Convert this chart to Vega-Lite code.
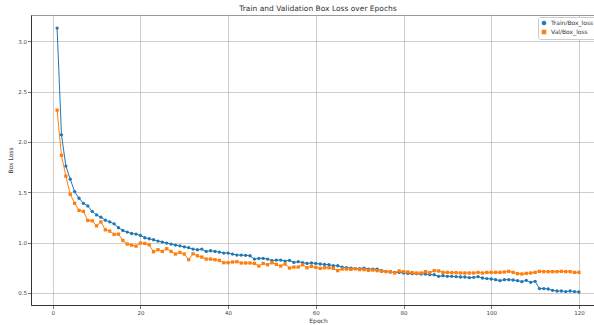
{
  "$schema": "https://vega.github.io/schema/vega-lite/v6.json",
  "autosize": {"type": "none"},
  "padding": {"left": 31, "top": 15, "right": 0, "bottom": 20},
  "width": 574,
  "height": 290,
  "background": "white",
  "title": {"text": "Train and Validation Box Loss over Epochs", "fontSize": 7.5, "font": "DejaVu Sans", "fontWeight": "normal", "color": "#333", "offset": 3, "anchor": "middle"},
  "data": {"values": [
    {"epoch":1,"Train/Box_loss":3.13,"Val/Box_loss":2.315},
    {"epoch":2,"Train/Box_loss":2.07,"Val/Box_loss":1.866},
    {"epoch":3,"Train/Box_loss":1.76,"Val/Box_loss":1.66},
    {"epoch":4,"Train/Box_loss":1.63,"Val/Box_loss":1.48},
    {"epoch":5,"Train/Box_loss":1.506,"Val/Box_loss":1.39},
    {"epoch":6,"Train/Box_loss":1.44,"Val/Box_loss":1.32},
    {"epoch":7,"Train/Box_loss":1.39,"Val/Box_loss":1.31},
    {"epoch":8,"Train/Box_loss":1.364,"Val/Box_loss":1.22},
    {"epoch":9,"Train/Box_loss":1.31,"Val/Box_loss":1.216},
    {"epoch":10,"Train/Box_loss":1.275,"Val/Box_loss":1.166},
    {"epoch":11,"Train/Box_loss":1.252,"Val/Box_loss":1.205},
    {"epoch":12,"Train/Box_loss":1.222,"Val/Box_loss":1.127},
    {"epoch":13,"Train/Box_loss":1.206,"Val/Box_loss":1.114},
    {"epoch":14,"Train/Box_loss":1.186,"Val/Box_loss":1.081},
    {"epoch":15,"Train/Box_loss":1.147,"Val/Box_loss":1.084},
    {"epoch":16,"Train/Box_loss":1.12,"Val/Box_loss":1.021},
    {"epoch":17,"Train/Box_loss":1.104,"Val/Box_loss":0.985},
    {"epoch":18,"Train/Box_loss":1.09,"Val/Box_loss":0.975},
    {"epoch":19,"Train/Box_loss":1.084,"Val/Box_loss":0.965},
    {"epoch":20,"Train/Box_loss":1.071,"Val/Box_loss":0.995},
    {"epoch":21,"Train/Box_loss":1.048,"Val/Box_loss":0.991},
    {"epoch":22,"Train/Box_loss":1.038,"Val/Box_loss":0.978},
    {"epoch":23,"Train/Box_loss":1.028,"Val/Box_loss":0.909},
    {"epoch":24,"Train/Box_loss":1.015,"Val/Box_loss":0.929},
    {"epoch":25,"Train/Box_loss":1.005,"Val/Box_loss":0.912},
    {"epoch":26,"Train/Box_loss":0.995,"Val/Box_loss":0.939},
    {"epoch":27,"Train/Box_loss":0.985,"Val/Box_loss":0.912},
    {"epoch":28,"Train/Box_loss":0.975,"Val/Box_loss":0.886},
    {"epoch":29,"Train/Box_loss":0.968,"Val/Box_loss":0.902},
    {"epoch":30,"Train/Box_loss":0.958,"Val/Box_loss":0.886},
    {"epoch":31,"Train/Box_loss":0.949,"Val/Box_loss":0.83},
    {"epoch":32,"Train/Box_loss":0.935,"Val/Box_loss":0.889},
    {"epoch":33,"Train/Box_loss":0.929,"Val/Box_loss":0.869},
    {"epoch":34,"Train/Box_loss":0.935,"Val/Box_loss":0.856},
    {"epoch":35,"Train/Box_loss":0.912,"Val/Box_loss":0.836},
    {"epoch":36,"Train/Box_loss":0.919,"Val/Box_loss":0.836},
    {"epoch":37,"Train/Box_loss":0.912,"Val/Box_loss":0.83},
    {"epoch":38,"Train/Box_loss":0.906,"Val/Box_loss":0.823},
    {"epoch":39,"Train/Box_loss":0.896,"Val/Box_loss":0.8},
    {"epoch":40,"Train/Box_loss":0.896,"Val/Box_loss":0.8},
    {"epoch":41,"Train/Box_loss":0.886,"Val/Box_loss":0.807},
    {"epoch":42,"Train/Box_loss":0.876,"Val/Box_loss":0.81},
    {"epoch":43,"Train/Box_loss":0.876,"Val/Box_loss":0.797},
    {"epoch":44,"Train/Box_loss":0.873,"Val/Box_loss":0.797},
    {"epoch":45,"Train/Box_loss":0.869,"Val/Box_loss":0.797},
    {"epoch":46,"Train/Box_loss":0.836,"Val/Box_loss":0.793},
    {"epoch":47,"Train/Box_loss":0.843,"Val/Box_loss":0.767},
    {"epoch":48,"Train/Box_loss":0.843,"Val/Box_loss":0.793},
    {"epoch":49,"Train/Box_loss":0.836,"Val/Box_loss":0.78},
    {"epoch":50,"Train/Box_loss":0.82,"Val/Box_loss":0.8},
    {"epoch":51,"Train/Box_loss":0.826,"Val/Box_loss":0.783},
    {"epoch":52,"Train/Box_loss":0.826,"Val/Box_loss":0.767},
    {"epoch":53,"Train/Box_loss":0.816,"Val/Box_loss":0.787},
    {"epoch":54,"Train/Box_loss":0.823,"Val/Box_loss":0.747},
    {"epoch":55,"Train/Box_loss":0.803,"Val/Box_loss":0.757},
    {"epoch":56,"Train/Box_loss":0.81,"Val/Box_loss":0.757},
    {"epoch":57,"Train/Box_loss":0.8,"Val/Box_loss":0.78},
    {"epoch":58,"Train/Box_loss":0.793,"Val/Box_loss":0.75},
    {"epoch":59,"Train/Box_loss":0.797,"Val/Box_loss":0.764},
    {"epoch":60,"Train/Box_loss":0.793,"Val/Box_loss":0.754},
    {"epoch":61,"Train/Box_loss":0.787,"Val/Box_loss":0.744},
    {"epoch":62,"Train/Box_loss":0.783,"Val/Box_loss":0.75},
    {"epoch":63,"Train/Box_loss":0.78,"Val/Box_loss":0.75},
    {"epoch":64,"Train/Box_loss":0.77,"Val/Box_loss":0.744},
    {"epoch":65,"Train/Box_loss":0.77,"Val/Box_loss":0.721},
    {"epoch":66,"Train/Box_loss":0.757,"Val/Box_loss":0.737},
    {"epoch":67,"Train/Box_loss":0.75,"Val/Box_loss":0.737},
    {"epoch":68,"Train/Box_loss":0.747,"Val/Box_loss":0.734},
    {"epoch":69,"Train/Box_loss":0.741,"Val/Box_loss":0.74},
    {"epoch":70,"Train/Box_loss":0.741,"Val/Box_loss":0.731},
    {"epoch":71,"Train/Box_loss":0.747,"Val/Box_loss":0.731},
    {"epoch":72,"Train/Box_loss":0.737,"Val/Box_loss":0.724},
    {"epoch":73,"Train/Box_loss":0.737,"Val/Box_loss":0.727},
    {"epoch":74,"Train/Box_loss":0.737,"Val/Box_loss":0.721},
    {"epoch":75,"Train/Box_loss":0.721,"Val/Box_loss":0.714},
    {"epoch":76,"Train/Box_loss":0.714,"Val/Box_loss":0.711},
    {"epoch":77,"Train/Box_loss":0.708,"Val/Box_loss":0.711},
    {"epoch":78,"Train/Box_loss":0.704,"Val/Box_loss":0.698},
    {"epoch":79,"Train/Box_loss":0.704,"Val/Box_loss":0.718},
    {"epoch":80,"Train/Box_loss":0.698,"Val/Box_loss":0.711},
    {"epoch":81,"Train/Box_loss":0.694,"Val/Box_loss":0.708},
    {"epoch":82,"Train/Box_loss":0.691,"Val/Box_loss":0.701},
    {"epoch":83,"Train/Box_loss":0.691,"Val/Box_loss":0.698},
    {"epoch":84,"Train/Box_loss":0.688,"Val/Box_loss":0.698},
    {"epoch":85,"Train/Box_loss":0.688,"Val/Box_loss":0.711},
    {"epoch":86,"Train/Box_loss":0.681,"Val/Box_loss":0.701},
    {"epoch":87,"Train/Box_loss":0.681,"Val/Box_loss":0.721},
    {"epoch":88,"Train/Box_loss":0.665,"Val/Box_loss":0.718},
    {"epoch":89,"Train/Box_loss":0.671,"Val/Box_loss":0.704},
    {"epoch":90,"Train/Box_loss":0.665,"Val/Box_loss":0.704},
    {"epoch":91,"Train/Box_loss":0.665,"Val/Box_loss":0.701},
    {"epoch":92,"Train/Box_loss":0.661,"Val/Box_loss":0.701},
    {"epoch":93,"Train/Box_loss":0.658,"Val/Box_loss":0.698},
    {"epoch":94,"Train/Box_loss":0.658,"Val/Box_loss":0.698},
    {"epoch":95,"Train/Box_loss":0.651,"Val/Box_loss":0.698},
    {"epoch":96,"Train/Box_loss":0.655,"Val/Box_loss":0.698},
    {"epoch":97,"Train/Box_loss":0.661,"Val/Box_loss":0.704},
    {"epoch":98,"Train/Box_loss":0.648,"Val/Box_loss":0.698},
    {"epoch":99,"Train/Box_loss":0.642,"Val/Box_loss":0.704},
    {"epoch":100,"Train/Box_loss":0.638,"Val/Box_loss":0.704},
    {"epoch":101,"Train/Box_loss":0.632,"Val/Box_loss":0.704},
    {"epoch":102,"Train/Box_loss":0.622,"Val/Box_loss":0.704},
    {"epoch":103,"Train/Box_loss":0.632,"Val/Box_loss":0.708},
    {"epoch":104,"Train/Box_loss":0.632,"Val/Box_loss":0.714},
    {"epoch":105,"Train/Box_loss":0.628,"Val/Box_loss":0.704},
    {"epoch":106,"Train/Box_loss":0.622,"Val/Box_loss":0.691},
    {"epoch":107,"Train/Box_loss":0.612,"Val/Box_loss":0.688},
    {"epoch":108,"Train/Box_loss":0.625,"Val/Box_loss":0.694},
    {"epoch":109,"Train/Box_loss":0.605,"Val/Box_loss":0.698},
    {"epoch":110,"Train/Box_loss":0.615,"Val/Box_loss":0.704},
    {"epoch":111,"Train/Box_loss":0.543,"Val/Box_loss":0.714},
    {"epoch":112,"Train/Box_loss":0.543,"Val/Box_loss":0.711},
    {"epoch":113,"Train/Box_loss":0.539,"Val/Box_loss":0.711},
    {"epoch":114,"Train/Box_loss":0.526,"Val/Box_loss":0.711},
    {"epoch":115,"Train/Box_loss":0.519,"Val/Box_loss":0.711},
    {"epoch":116,"Train/Box_loss":0.519,"Val/Box_loss":0.714},
    {"epoch":117,"Train/Box_loss":0.513,"Val/Box_loss":0.711},
    {"epoch":118,"Train/Box_loss":0.519,"Val/Box_loss":0.711},
    {"epoch":119,"Train/Box_loss":0.513,"Val/Box_loss":0.704},
    {"epoch":120,"Train/Box_loss":0.509,"Val/Box_loss":0.704}
  ]},
  "transform": [
    {"fold": ["Train/Box_loss", "Val/Box_loss"], "as": ["series", "loss"]}
  ],
  "encoding": {
    "x": {"field": "epoch", "type": "quantitative", "title": "Epoch",
      "scale": {"domain": [-4.95, 125.95], "nice": false, "zero": false},
      "axis": {"values": [0, 20, 40, 60, 80, 100, 120], "format": "d", "titleColor": "#333333"}},
    "y": {"field": "loss", "type": "quantitative", "title": "Box Loss",
      "scale": {"domain": [0.38, 3.26], "nice": false, "zero": false},
      "axis": {"values": [0.5, 1.0, 1.5, 2.0, 2.5, 3.0], "format": ".1f", "titleColor": "#333333"}},
    "color": {"field": "series", "type": "nominal", "title": null,
      "scale": {"domain": ["Train/Box_loss", "Val/Box_loss"], "range": ["#1f77b4", "#ff7f0e"]},
      "legend": {"orient": "none", "legendX": 507, "legendY": 2, "fillColor": "white", "strokeColor": "#cccccc", "padding": 3, "cornerRadius": 2, "labelFontSize": 6, "labelFont": "DejaVu Sans", "labelColor": "#333", "symbolSize": 14, "rowPadding": 1, "symbolStrokeWidth": 1}},
    "shape": {"field": "series", "type": "nominal", "title": null,
      "scale": {"domain": ["Train/Box_loss", "Val/Box_loss"], "range": ["circle", "square"]}}
  },
  "layer": [
    {"transform": [{"filter": "datum.series === 'Train/Box_loss'"}],
     "mark": {"type": "line", "strokeWidth": 1, "point": {"filled": true, "size": 11, "opacity": 1}}},
    {"transform": [{"filter": "datum.series === 'Val/Box_loss'"}],
     "mark": {"type": "line", "strokeWidth": 1, "point": {"filled": true, "size": 11, "opacity": 1}}}
  ],
  "config": {
    "view": {"stroke": "#999999", "strokeWidth": 1},
    "axis": {
      "labelFont": "DejaVu Sans", "titleFont": "DejaVu Sans",
      "labelFontSize": 5.5, "titleFontSize": 6, "titleFontWeight": "normal",
      "labelColor": "#444", "titleColor": "#333",
      "grid": true, "gridColor": "#b0b0b0", "gridOpacity": 0.8, "gridWidth": 0.8,
      "tickSize": 3.5, "tickColor": "#555", "tickWidth": 0.8,
      "domainColor": "#333", "domainWidth": 1
    },
    "axisX": {"labelPadding": 2, "titlePadding": 1},
    "axisY": {"labelPadding": 1, "titlePadding": 4}
  }
}
